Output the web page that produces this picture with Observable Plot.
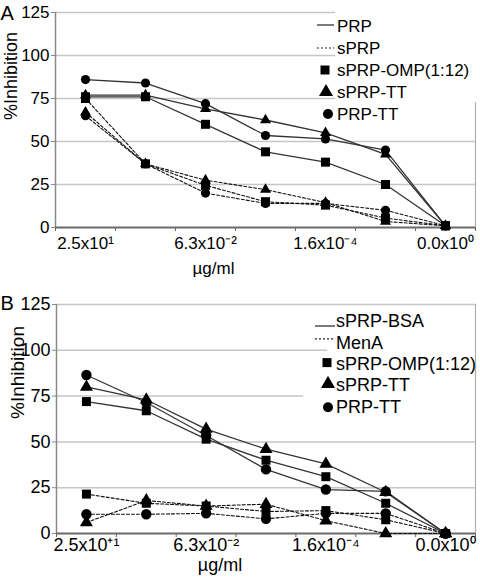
<!DOCTYPE html>
<html><head><meta charset="utf-8">
<script src="https://cdn.jsdelivr.net/npm/d3@7"></script>
<script src="https://cdn.jsdelivr.net/npm/@observablehq/plot@0.6"></script>
<style>
body{margin:0;background:#fff;}
#chart svg{display:block;}
</style>
</head><body><div id="chart"></div>
<script>
// ---- data ----
const categoryIndex = [1, 2, 3, 4, 5, 6, 7];
const dilutions = ["2.5x10¹", "1.3x10⁰", "6.3x10⁻²", "3.1x10⁻³", "1.6x10⁻⁴", "7.8x10⁻⁶", "0.0x10⁰"];
const tickLabelsA = ["2.5x10¹", "6.3x10⁻²", "1.6x10⁻⁴", "0.0x10⁰"];
const tickLabelsB = ["2.5x10⁺¹", "6.3x10⁻²", "1.6x10⁻⁴", "0.0x10⁰"];
const labeledCategories = [1, 3, 5, 7];
const yTicks = [0, 25, 50, 75, 100, 125];

// Panel A: solid = PRP inhibitor, dashed = sPRP inhibitor
const aPRP_OMP   = [76, 76, 60, 44, 38, 25, 1];
const aPRP_TT    = [77, 77, 69, 62.5, 55, 42.5, 1];
const aPRP_PRPTT = [86, 84, 72, 53.5, 51.5, 45, 1];
const asPRP_OMP   = [75, 37, 24.5, 15, 13, 5.5, 1];
const asPRP_TT    = [67, 37, 27.5, 22, 14.5, 3.5, 1];
const asPRP_PRPTT = [65, 37, 20, 14, 14, 10, 1];

// Panel B: solid = sPRP-BSA inhibitor, dashed = MenA
const bBSA_OMP   = [72, 67, 51.5, 40, 31, 16.5, 0];
const bBSA_TT    = [80, 73, 57, 46, 38, 22.5, 0];
const bBSA_PRPTT = [86.5, 71.5, 53.5, 35, 24, 23, 0];
const bMenA_OMP   = [21.5, 16.5, 15, 12, 12.5, 7.5, 0];
const bMenA_TT    = [6, 18, 15, 16, 7, 0, 0];
const bMenA_PRPTT = [10.5, 10.5, 11, 8, 11, 11, 0];

const legendA = ["PRP", "sPRP", "sPRP-OMP(1:12)", "sPRP-TT", "PRP-TT"];
const legendB = ["sPRP-BSA", "MenA", "sPRP-OMP(1:12)", "sPRP-TT", "PRP-TT"];
const legendKinds = ["solid", "dashed", "square", "triangle", "circle"];

// ---- build ----
function rows(series) {
  const out = [];
  for (const s of series) s.values.forEach((v, i) => out.push({cat: categoryIndex[i], dilution: dilutions[i], value: v, key: s.key, dash: s.dash, symbol: s.symbol}));
  return out;
}

const FONT = "'Liberation Sans', Arial, Helvetica, sans-serif";

function legendMark(labels, o) {
  return () => {
    const g = d3.create("svg:g").attr("font-family", FONT).attr("font-size", o.fs).attr("text-anchor", "start");
    labels.forEach((lab, i) => {
      const kind = legendKinds[i];
      const cy = o.y0 + o.step * i;
      if (kind === "solid" || kind === "dashed") {
        const ly = cy + o.sampleDy[i];
        g.append("line").attr("x1", o.lx1).attr("x2", o.lx2).attr("y1", ly).attr("y2", ly)
          .attr("stroke", "#222").attr("stroke-width", 1.2)
          .attr("stroke-dasharray", kind === "dashed" ? "2,2" : null);
      } else {
        const sym = kind === "square" ? d3.symbolSquare : kind === "triangle" ? d3.symbolTriangle : d3.symbolCircle;
        const side = o.size[kind];
        const area = kind === "square" ? side * side : kind === "triangle" ? Math.sqrt(3) / 4 * side * side : Math.PI * side * side / 4;
        g.append("path").attr("d", d3.symbol(sym, area)()).attr("fill", "#000")
          .attr("transform", `translate(${o.sx + (o.symDx[i] || 0)},${cy + (o.sampleDy[i] || 0)})`);
      }
      g.append("text").attr("x", o.tx).attr("y", cy).attr("dy", "0.35em").attr("text-anchor", "start").attr("fill", "#000").text(lab);
    });
    return g.node();
  };
}

function panel(cfg) {
  const data = rows(cfg.series);
  const fs = cfg.fs;
  const boundaries = d3.range(0.5, 7.51, 1);
  const symR = s => cfg.symR[s];
  return Plot.plot({
    width: 480, height: 290,
    marginTop: cfg.top, marginBottom: cfg.bottom, marginLeft: cfg.left, marginRight: 5,
    x: {domain: [0.5, 7.5]},
    y: {domain: [0, 125]},
    style: {fontFamily: FONT, fontSize: fs + "px", color: "#000", background: "#fff", overflow: "visible"},
    marks: [
      Plot.ruleY(yTicks.filter(v => v > 0), {y: d => d, x1: 0.5, x2: d => cfg.gridEnd(d), stroke: "#c6c6c6", strokeWidth: 1.5}),
      Plot.ruleX([7.5], {y1: 0, y2: cfg.borderTop, stroke: "#b0b0b0", strokeWidth: 1.2}),
      Plot.ruleX([0.5], {stroke: "#8a8a8a", strokeWidth: 1.5}),
      Plot.axisY({ticks: yTicks, tickSize: 4, tickPadding: 2, label: null, fontSize: fs, stroke: "#8a8a8a"}),
      Plot.axisX({ticks: boundaries, tickSize: 4, tickFormat: () => "", label: null, stroke: "#666"}),
      Plot.axisX({ticks: labeledCategories, tickSize: 0, tickPadding: cfg.labelPad, label: null, fontSize: fs,
        tickFormat: c => cfg.tickLabels[labeledCategories.indexOf(c)]}),
      Plot.ruleY([0], {stroke: "#6a6a6a", strokeWidth: 2}),
      Plot.line(data.filter(d => d.dash), {x: "cat", y: "value", z: "key", stroke: "#111", strokeWidth: 1.1, strokeDasharray: "3,2"}),
      Plot.line(data.filter(d => !d.dash), {x: "cat", y: "value", z: "key", stroke: "#333", strokeWidth: 1.3}),
      Plot.dot(data.filter(d => d.symbol === "square"), {x: "cat", y: "value", symbol: "square", r: symR("square"), fill: "#000"}),
      Plot.dot(data.filter(d => d.symbol === "triangle"), {x: "cat", y: "value", symbol: "triangle", r: symR("triangle"), fill: "#000"}),
      Plot.dot(data.filter(d => d.symbol === "circle"), {x: "cat", y: "value", symbol: "circle", r: symR("circle"), fill: "#000"}),
      Plot.text(["%Inhibition"], {frameAnchor: "left", dx: cfg.titleDx, rotate: -90, fontSize: cfg.titleFs, fill: "#000"}),
      Plot.text(["µg/ml"], {frameAnchor: "bottom", dx: cfg.unitDx, dy: cfg.unitDy, lineAnchor: "bottom", fontSize: fs, fill: "#000"}),
      Plot.text([cfg.letter], {frameAnchor: "top-left", dx: -cfg.left, dy: cfg.letterDy, textAnchor: "start", lineAnchor: "top", fontSize: 20, fill: "#000"}),
      legendMark(cfg.legend, cfg.legendOpts)
    ]
  });
}

// symbol r so that square side / triangle side / circle diameter match
const rSquare = side => side / Math.sqrt(Math.PI);
const rTri = side => Math.sqrt(Math.sqrt(3) / 4 * side * side / Math.PI);

const chartA = panel({
  letter: "A", fs: 17, titleFs: 18, top: 12, bottom: 63, left: 55,
  tickLabels: tickLabelsA, labelPad: 9,
  gridEnd: v => v >= 75 ? 5.17 : 7.5, borderTop: 72.7,
  titleDx: -44, unitDx: -52, unitDy: 46, letterDy: -7,
  symR: {square: rSquare(9), triangle: rTri(11), circle: 4.6},
  series: [
    {key: "PRP/OMP", values: aPRP_OMP, dash: false, symbol: "square"},
    {key: "PRP/TT", values: aPRP_TT, dash: false, symbol: "triangle"},
    {key: "PRP/PRPTT", values: aPRP_PRPTT, dash: false, symbol: "circle"},
    {key: "sPRP/OMP", values: asPRP_OMP, dash: true, symbol: "square"},
    {key: "sPRP/TT", values: asPRP_TT, dash: true, symbol: "triangle"},
    {key: "sPRP/PRPTT", values: asPRP_PRPTT, dash: true, symbol: "circle"}
  ],
  legend: legendA,
  legendOpts: {fs: 17, y0: 26, step: 22, tx: 337, lx1: 317, lx2: 334, sx: 326, symDx: [0, 0, -1, 0, 2],
    sampleDy: [-1, 0, 0, 0, 0], size: {square: 9, triangle: 14, circle: 10}}
});

const chartB = panel({
  letter: "B", fs: 18, titleFs: 19, top: 14, bottom: 47, left: 56,
  tickLabels: tickLabelsB, labelPad: 5,
  gridEnd: v => v === 100 ? 5.03 : v === 75 ? 4.63 : 7.5, borderTop: 125,
  titleDx: -39, unitDx: -46, unitDy: 37, letterDy: -9,
  symR: {square: rSquare(9), triangle: rTri(13), circle: 5.2},
  series: [
    {key: "BSA/OMP", values: bBSA_OMP, dash: false, symbol: "square"},
    {key: "BSA/TT", values: bBSA_TT, dash: false, symbol: "triangle"},
    {key: "BSA/PRPTT", values: bBSA_PRPTT, dash: false, symbol: "circle"},
    {key: "MenA/OMP", values: bMenA_OMP, dash: true, symbol: "square"},
    {key: "MenA/TT", values: bMenA_TT, dash: true, symbol: "triangle"},
    {key: "MenA/PRPTT", values: bMenA_PRPTT, dash: true, symbol: "circle"}
  ],
  legend: legendB,
  legendOpts: {fs: 18, y0: 31, step: 21.3, tx: 336, lx1: 315, lx2: 335, sx: 327, symDx: [0, 0, 0, 1, 1],
    sampleDy: [5, -3.5, -1, -1, 1], size: {square: 9, triangle: 14, circle: 10}}
});

document.getElementById("chart").append(chartA, chartB);
</script>
</body></html>
